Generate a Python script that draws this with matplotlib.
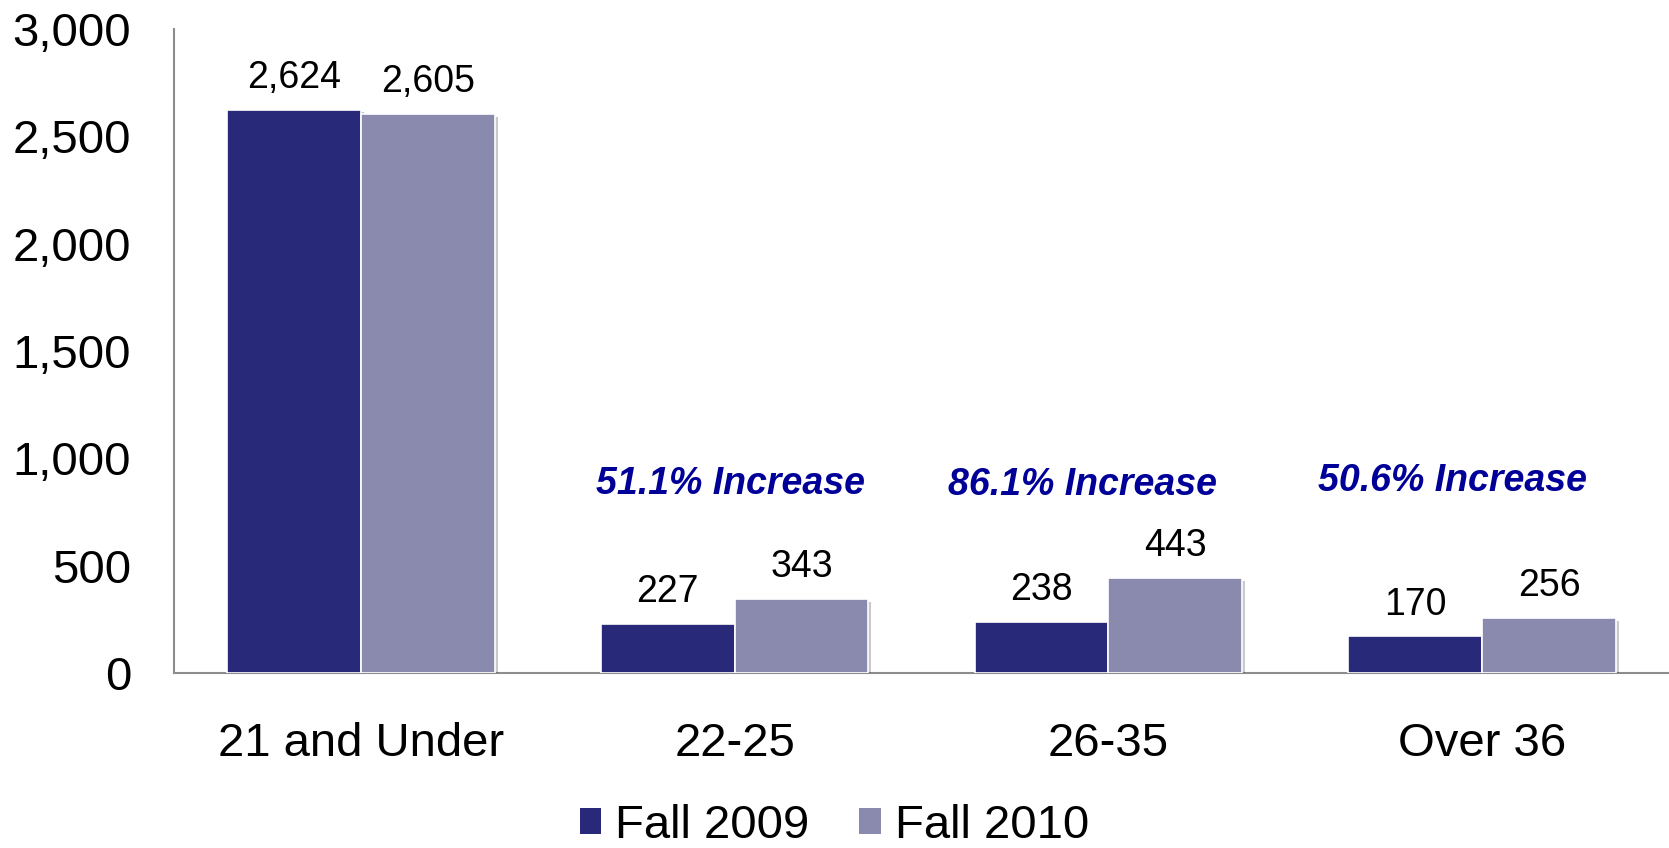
import matplotlib
matplotlib.use("Agg")
import matplotlib.pyplot as plt
import matplotlib.patheffects as pe
from matplotlib.ticker import FuncFormatter
import numpy as np

plt.rcParams['font.family'] = ['Liberation Sans', 'DejaVu Sans']

categories = ["21 and Under", "22-25", "26-35", "Over 36"]
fall_2009 = [2624, 227, 238, 170]
fall_2010 = [2605, 343, 443, 256]
series_names = ["Fall 2009", "Fall 2010"]
increase_labels = ["51.1% Increase", "86.1% Increase", "50.6% Increase"]
increase_pos = [(0.99, 880), (1.93, 876), (2.92, 894)]
yticks = [0, 500, 1000, 1500, 2000, 2500, 3000]

dark = "#29297A"
light = "#8A8AAE"
ann_color = "#000099"

fig = plt.figure(figsize=(16.69, 8.48), dpi=100)
ax = fig.add_axes([0.1043, 0.2064, 0.8957, 0.7594])

x = np.arange(len(categories))
w = 0.358
shadow = [pe.SimplePatchShadow(offset=(2, -2), alpha=0.25), pe.Normal()]
b1 = ax.bar(x - w / 2, fall_2009, w, color=dark, edgecolor="white", linewidth=1.2,
            label=series_names[0], path_effects=shadow, zorder=3)
b2 = ax.bar(x + w / 2, fall_2010, w, color=light, edgecolor="white", linewidth=1.2,
            label=series_names[1], path_effects=shadow, zorder=3)

for bars, vals in ((b1, fall_2009), (b2, fall_2010)):
    for r, v in zip(bars, vals):
        ax.annotate(f"{v:,}", (r.get_x() + r.get_width() / 2, v),
                    xytext=(0, 23), textcoords="offset points",
                    ha="center", va="center", fontsize=27, color="black")

for txt, (px, py) in zip(increase_labels, increase_pos):
    ax.text(px, py, txt, ha="center", va="center", fontsize=27,
            fontweight="bold", fontstyle="italic", color=ann_color)

ax.set_xlim(-0.5, 3.5)
ax.set_ylim(0, 3000)
ax.set_yticks(yticks)
ax.yaxis.set_major_formatter(FuncFormatter(lambda v, p: f"{int(v):,}"))
ax.set_xticks(x)
ax.set_xticklabels(categories)
ax.tick_params(axis="y", length=0, pad=31, labelsize=34)
ax.tick_params(axis="x", length=0, pad=35, labelsize=34)

for s in ("top", "right"):
    ax.spines[s].set_visible(False)
for s in ("left", "bottom"):
    ax.spines[s].set_color("#8C8C8C")
    ax.spines[s].set_linewidth(1.5)

leg = fig.legend(handles=[b1, b2], labels=series_names, loc="center",
                 bbox_to_anchor=(0.500, 0.026), ncol=2, frameon=False,
                 fontsize=34, handlelength=0.45, handleheight=0.45,
                 handletextpad=0.3, columnspacing=1.05, borderaxespad=0,
                 borderpad=0)
for h in leg.legend_handles:
    h.set_path_effects([])
    h.set_edgecolor("none")

fig.savefig("out.png", dpi=100)
